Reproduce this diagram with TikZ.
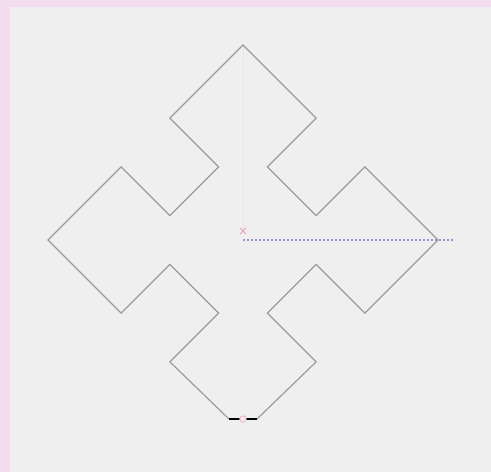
\documentclass[tikz,border=0pt]{standalone}
\usetikzlibrary{calc}
\definecolor{bgpink}{HTML}{F2DCEE}
\definecolor{bggray}{HTML}{EFEFEF}
\definecolor{curve}{HTML}{9C9C9C}
\definecolor{guide}{HTML}{9494D4}
\definecolor{markcol}{HTML}{E08FB8}
\definecolor{faint}{HTML}{EAE4E4}
\tikzset{
  curveline/.style={draw=curve, line width=1.2pt, line join=miter},
  guideline/.style={draw=guide, line width=1.1pt, dash pattern=on 1.8pt off 2.2pt},
  faintline/.style={draw=faint, line width=1pt},
}
\begin{document}
\begin{tikzpicture}[x=1pt,y=-1pt]
\useasboundingbox (0,0) rectangle (491,472);
\fill[bgpink] (0,0) rectangle (491,472);
\fill[bggray] (10,7) rectangle (491,472);
\coordinate (C) at (243,240);
\coordinate (T) at (243,45);
\coordinate (R) at (455,240);
\coordinate (BL) at (229,419);
\coordinate (BR) at (257,419);
% faint vertical guide
\draw[faintline] (T) -- (243,231);
% dotted horizontal guide
\draw[guideline] (C) -- (R);
% curve
\draw[curveline] (BR) -- (316.1,361.9) -- (267.4,313.1) -- (316.1,264.4) -- (364.9,313.1)
  -- (438,240) -- (364.9,166.9) -- (316.1,215.6) -- (267.4,166.9) -- (316.1,118.1)
  -- (T) -- (169.9,118.1) -- (218.6,166.9) -- (169.9,215.6) -- (121.1,166.9)
  -- (48,240) -- (121.1,313.1) -- (169.9,264.4) -- (218.6,313.1) -- (169.9,361.9) -- (BL);
\draw[black, line width=1.5pt] (BL) -- (BR);
% markers
\draw[markcol!60!white, fill=markcol!20!white, line width=1pt] (243,419) circle (3.2);
\draw[markcol!80!white, line width=0.8pt] (240,228) -- (246,234) (240,234) -- (246,228);
\end{tikzpicture}
\end{document}
